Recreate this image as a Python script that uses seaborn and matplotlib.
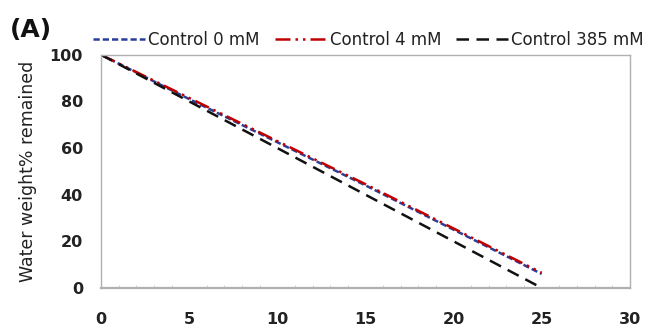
import matplotlib
matplotlib.use("Agg")
import matplotlib.pyplot as plt
import seaborn as sns
import pandas as pd
from matplotlib.ticker import MultipleLocator

days = [0, 5, 10, 15, 20, 25]
control_0 = [100, 81, 62.5, 44, 25, 6]
control_4 = [100, 81.5, 63, 44.5, 25.5, 6.5]
control_385 = [100, 80, 60, 40, 20, 0]
labels = ["Control 0 mM", "Control 4 mM", "Control 385 mM"]

df = pd.DataFrame({
    "day": days * 3,
    "value": control_0 + control_4 + control_385,
    "series": [labels[0]] * 6 + [labels[1]] * 6 + [labels[2]] * 6,
})

sns.set_style("white")
plt.rcParams['font.family'] = ['DejaVu Sans']

fig = plt.figure(figsize=(6.56, 3.34), dpi=100)
ax = fig.add_axes([0.154, 0.138, 0.806, 0.698])

palette = {labels[0]: "#2a3f9a", labels[1]: "#c00000", labels[2]: "#111111"}
sns.lineplot(data=df, x="day", y="value", hue="series", palette=palette, ax=ax, legend=False)
styles = [(0, (2.5, 1.2)), (0, (6, 2, 1, 2, 1, 2)), (0, (5, 3))]
for line, ls in zip(ax.get_lines(), styles):
    line.set_linestyle(ls)
    line.set_linewidth(1.8)

ax.set_xlim(0, 30)
ax.set_ylim(0, 100)
ax.set_xticks([0, 5, 10, 15, 20, 25, 30])
ax.set_yticks([0, 20, 40, 60, 80, 100])
ax.xaxis.set_minor_locator(MultipleLocator(1))
ax.tick_params(axis="x", which="minor", direction="in", length=2, color="#c8c8c8", bottom=True)
ax.tick_params(axis="x", which="major", length=0, labelsize=11.5, pad=17)
ax.tick_params(axis="y", which="major", length=0, labelsize=11.5, pad=13)
for lab in ax.get_xticklabels() + ax.get_yticklabels():
    lab.set_fontweight("bold")
    lab.set_color("#222222")
for s in ax.spines.values():
    s.set_color("#b0b0b0")
    s.set_linewidth(1.0)
ax.spines["bottom"].set_linewidth(1.6)
ax.set_xlabel("")
ax.set_ylabel("Water weight% remained", fontsize=12.5, color="#222222", labelpad=9)

handles = ax.get_lines()[:3]
fig.legend(handles, labels, loc="center left", bbox_to_anchor=(93 / 656, 1 - 40 / 334), ncol=3,
           frameon=False, fontsize=12, handlelength=3.1, columnspacing=0.9,
           handletextpad=0.2, borderpad=0, borderaxespad=0, labelcolor="#222222")
fig.text(10 / 656, 1 - 37 / 334, "(A)", fontsize=18, fontweight="bold", color="#111111")

fig.savefig("out.png", dpi=100)
